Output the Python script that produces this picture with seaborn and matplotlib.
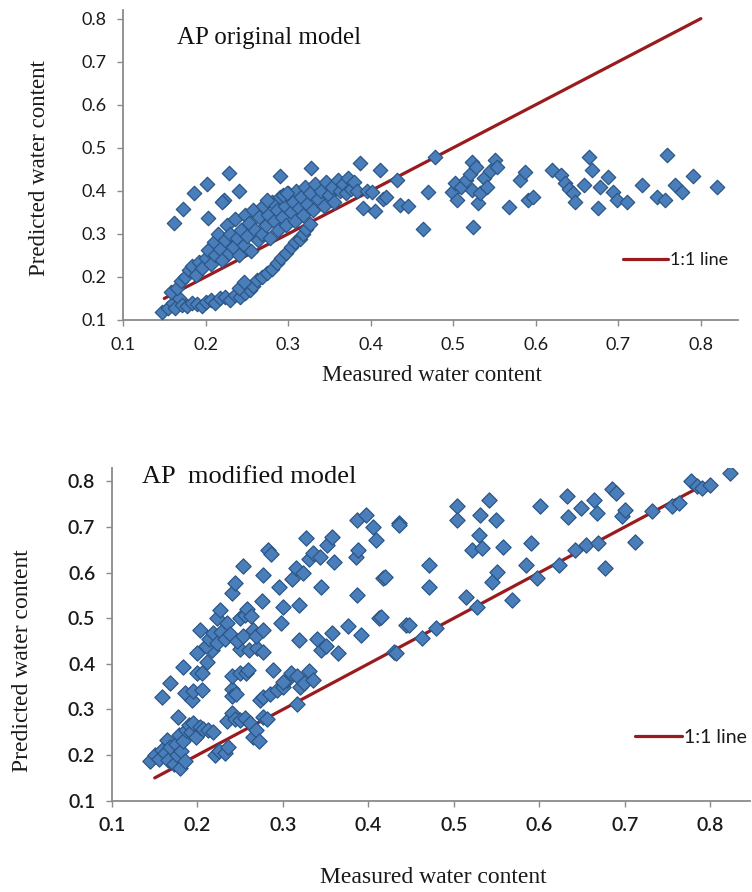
import matplotlib
matplotlib.use("Agg")
import matplotlib.pyplot as plt
import seaborn as sns

# ---- values ----
orig_measured = [
    0.147, 0.155, 0.160, 0.163, 0.168, 0.172, 0.178, 0.183, 0.190, 0.196,
    0.200, 0.206, 0.212, 0.218, 0.224, 0.230, 0.236, 0.242, 0.248, 0.254,
    0.258, 0.262, 0.268, 0.274, 0.280, 0.286, 0.292, 0.298, 0.304, 0.308,
    0.314, 0.318, 0.322, 0.326, 0.240, 0.246,
    0.158, 0.165, 0.170, 0.175, 0.180, 0.183, 0.188, 0.192, 0.196, 0.200,
    0.203, 0.206, 0.210, 0.212, 0.215, 0.218, 0.220, 0.223, 0.226, 0.228,
    0.230, 0.233, 0.236, 0.238, 0.240, 0.243, 0.246, 0.248, 0.250, 0.253,
    0.255, 0.258, 0.260, 0.263, 0.265, 0.268, 0.270, 0.273, 0.276, 0.278,
    0.280, 0.283, 0.286, 0.288, 0.290, 0.293, 0.296, 0.298, 0.300, 0.303,
    0.306, 0.308, 0.310, 0.313, 0.316, 0.318, 0.320, 0.323, 0.326, 0.330,
    0.333, 0.336, 0.340, 0.343, 0.346, 0.350, 0.353, 0.356, 0.360, 0.363,
    0.366, 0.370, 0.373, 0.376, 0.380, 0.383,
    0.162, 0.173, 0.186, 0.202, 0.229, 0.222, 0.240, 0.203, 0.220, 0.290,
    0.328, 0.294, 0.275, 0.299,
    0.387, 0.391, 0.395, 0.402, 0.405, 0.411, 0.415, 0.418, 0.432, 0.436,
    0.445, 0.464, 0.470, 0.478, 0.499, 0.502, 0.505, 0.510, 0.515, 0.520,
    0.523, 0.523, 0.524, 0.528, 0.530, 0.533, 0.537, 0.541, 0.545, 0.551,
    0.553, 0.567, 0.581, 0.587, 0.591, 0.597, 0.620, 0.630, 0.636, 0.640,
    0.645, 0.648, 0.658, 0.664, 0.668, 0.676, 0.678, 0.687, 0.694, 0.699,
    0.711, 0.729, 0.747, 0.757, 0.759, 0.769, 0.777, 0.790, 0.820,
]
orig_predicted = [
    0.118, 0.128, 0.140, 0.127, 0.150, 0.135, 0.132, 0.140, 0.138, 0.132,
    0.142, 0.146, 0.140, 0.150, 0.153, 0.146, 0.158, 0.153, 0.163, 0.170,
    0.180, 0.192, 0.200, 0.210, 0.218, 0.232, 0.245, 0.256, 0.270, 0.280,
    0.288, 0.300, 0.312, 0.322, 0.175, 0.188,
    0.165, 0.175, 0.190, 0.200, 0.215, 0.225, 0.205, 0.235, 0.220, 0.245,
    0.262, 0.230, 0.280, 0.250, 0.300, 0.265, 0.240, 0.285, 0.320, 0.255,
    0.300, 0.270, 0.335, 0.290, 0.250, 0.310, 0.275, 0.345, 0.295, 0.325,
    0.260, 0.355, 0.310, 0.285, 0.340, 0.300, 0.365, 0.320, 0.345, 0.290,
    0.375, 0.330, 0.355, 0.310, 0.385, 0.340, 0.365, 0.320, 0.395, 0.350,
    0.375, 0.330, 0.400, 0.360, 0.385, 0.345, 0.410, 0.370, 0.395, 0.355,
    0.415, 0.380, 0.400, 0.365, 0.420, 0.390, 0.410, 0.375, 0.425, 0.400,
    0.415, 0.395, 0.430, 0.405, 0.420, 0.400,
    0.325, 0.358, 0.395, 0.416, 0.441, 0.378, 0.399, 0.336, 0.374, 0.434,
    0.452, 0.390, 0.378, 0.395,
    0.464, 0.360, 0.400, 0.397, 0.354, 0.448, 0.380, 0.386, 0.425, 0.367,
    0.365, 0.311, 0.397, 0.478, 0.397, 0.418, 0.378, 0.410, 0.425, 0.440,
    0.467, 0.402, 0.316, 0.455, 0.371, 0.395, 0.430, 0.409, 0.445, 0.471,
    0.455, 0.362, 0.425, 0.444, 0.378, 0.386, 0.448, 0.436, 0.418, 0.405,
    0.395, 0.374, 0.413, 0.478, 0.448, 0.360, 0.409, 0.432, 0.397, 0.378,
    0.374, 0.413, 0.386, 0.378, 0.483, 0.413, 0.397, 0.434, 0.409,
]

mod_measured = [
    0.144, 0.150, 0.155, 0.158, 0.162, 0.164, 0.166, 0.168, 0.172, 0.175,
    0.176, 0.178, 0.180, 0.181, 0.183, 0.185, 0.187, 0.190, 0.192, 0.195,
    0.198, 0.203, 0.207, 0.212, 0.218, 0.220, 0.225, 0.232, 0.236, 0.234,
    0.240, 0.244, 0.250, 0.256, 0.262, 0.265, 0.269, 0.272, 0.277, 0.281,
    0.158, 0.168, 0.177, 0.183, 0.186, 0.194, 0.195, 0.199, 0.205, 0.205,
    0.211, 0.217, 0.240, 0.240, 0.241, 0.245, 0.250, 0.257, 0.259, 0.250,
    0.260, 0.270, 0.273, 0.277, 0.285, 0.288, 0.293, 0.300, 0.305, 0.310,
    0.316, 0.317, 0.320, 0.325, 0.330, 0.335, 0.300,
    0.199, 0.203, 0.210, 0.214, 0.218, 0.223, 0.223, 0.226, 0.228, 0.232,
    0.235, 0.238, 0.241, 0.244, 0.246, 0.250, 0.253, 0.253, 0.256, 0.258,
    0.263, 0.265, 0.268, 0.275, 0.277, 0.277, 0.277, 0.282, 0.286, 0.296,
    0.298, 0.300, 0.311, 0.315, 0.319, 0.319, 0.323, 0.327, 0.330, 0.335,
    0.340, 0.343, 0.345, 0.345, 0.350, 0.352, 0.358, 0.360, 0.358, 0.364,
    0.376, 0.386, 0.388, 0.387, 0.387, 0.391, 0.397, 0.405, 0.409, 0.413,
    0.417, 0.436,
    0.415, 0.419, 0.430, 0.432, 0.436, 0.444, 0.448, 0.463, 0.471, 0.471,
    0.479, 0.504, 0.504, 0.514, 0.521, 0.527, 0.529, 0.531, 0.533, 0.541,
    0.545, 0.549, 0.551, 0.557, 0.568, 0.584, 0.590, 0.597, 0.601, 0.623,
    0.633, 0.634, 0.642, 0.649, 0.655, 0.664, 0.667, 0.669, 0.677, 0.685,
    0.690, 0.697, 0.700, 0.712, 0.732, 0.755, 0.763, 0.777, 0.785, 0.790,
    0.800, 0.823,
]
mod_predicted = [
    0.186, 0.200, 0.192, 0.212, 0.205, 0.233, 0.190, 0.218, 0.180, 0.225,
    0.200, 0.245, 0.172, 0.210, 0.230, 0.188, 0.255, 0.265, 0.250, 0.270,
    0.240, 0.262, 0.258, 0.255, 0.250, 0.200, 0.208, 0.205, 0.218, 0.275,
    0.292, 0.280, 0.277, 0.282, 0.270, 0.240, 0.255, 0.230, 0.284, 0.280,
    0.328, 0.358, 0.284, 0.393, 0.336, 0.321, 0.340, 0.380, 0.342, 0.380,
    0.405, 0.430, 0.345, 0.330, 0.373, 0.335, 0.380, 0.379, 0.386, 0.432,
    0.430, 0.435, 0.320, 0.328, 0.335, 0.387, 0.343, 0.350, 0.365, 0.380,
    0.373, 0.313, 0.350, 0.357, 0.385, 0.365, 0.360,
    0.424, 0.474, 0.440, 0.455, 0.468, 0.445, 0.500, 0.518, 0.470, 0.455,
    0.490, 0.465, 0.555, 0.577, 0.450, 0.500, 0.614, 0.460, 0.508, 0.520,
    0.505, 0.474, 0.460, 0.537, 0.474, 0.425, 0.595, 0.650, 0.640, 0.569,
    0.489, 0.525, 0.585, 0.610, 0.529, 0.452, 0.600, 0.675, 0.630, 0.643,
    0.455, 0.635, 0.569, 0.430, 0.440, 0.660, 0.678, 0.624, 0.467, 0.423,
    0.482, 0.635, 0.650, 0.716, 0.551, 0.463, 0.727, 0.700, 0.672, 0.500,
    0.588, 0.708,
    0.503, 0.590, 0.427, 0.423, 0.705, 0.485, 0.485, 0.457, 0.617, 0.569,
    0.478, 0.745, 0.716, 0.547, 0.650, 0.525, 0.683, 0.727, 0.655, 0.760,
    0.580, 0.716, 0.602, 0.657, 0.540, 0.617, 0.664, 0.588, 0.745, 0.617,
    0.767, 0.723, 0.650, 0.741, 0.660, 0.760, 0.730, 0.664, 0.610, 0.784,
    0.775, 0.725, 0.737, 0.668, 0.734, 0.745, 0.753, 0.800, 0.790, 0.785,
    0.793, 0.818,
]

line_x = [0.15, 0.80]
line_y = [0.15, 0.80]
tick_values = [0.1, 0.2, 0.3, 0.4, 0.5, 0.6, 0.7, 0.8]
tick_labels = ["0.1", "0.2", "0.3", "0.4", "0.5", "0.6", "0.7", "0.8"]

BLUE = "#4a7ebb"
EDGE = "#2b5686"
RED = "#9a1b1e"
GREY = "#8a8a8a"
SERIF = ["Liberation Serif", "DejaVu Serif"]

sns.set_theme(style="ticks")
plt.rcParams["font.family"] = ["Lato", "DejaVu Sans"]

fig = plt.figure(figsize=(7.52, 8.92), dpi=100)
ax_top = fig.add_axes([123 / 752, 1 - 320 / 892, 615 / 752, 310 / 892])
ax_bot = fig.add_axes([112 / 752, 1 - 800.7 / 892, 638 / 752, 333 / 892])


def panel(ax, measured, predicted, title, cfg):
    sns.lineplot(x=line_x, y=line_y, ax=ax, color=RED, linewidth=2.3,
                 label="1:1 line", zorder=2)
    sns.scatterplot(x=measured, y=predicted, ax=ax, marker="D", s=cfg["s"],
                    color=BLUE, edgecolor=EDGE, linewidth=0.9, zorder=3,
                    legend=False)
    ax.set_xlim(0.1, cfg["xmax"])
    ax.set_ylim(0.1, cfg["ymax"])
    ax.set_xticks(tick_values)
    ax.set_xticklabels(tick_labels)
    ax.set_yticks(tick_values)
    ax.set_yticklabels(tick_labels)
    sns.despine(ax=ax)
    for side in ("left", "bottom"):
        ax.spines[side].set_color(GREY)
        ax.spines[side].set_linewidth(1.3)
    ax.tick_params(direction="out", length=4, width=1, color=GREY,
                   labelsize=cfg["tick"], labelcolor="#1a1a1a", pad=cfg["pad"])
    for lab in ax.get_xticklabels() + ax.get_yticklabels():
        lab.set_fontweight(cfg["weight"])

    ax.set_xlabel("Measured water content", family=SERIF, fontsize=cfg["lab"],
                  color="#1a1a1a", va="center")
    ax.set_ylabel("Predicted water content", family=SERIF, fontsize=cfg["lab"],
                  color="#1a1a1a", va="center")
    ax.xaxis.set_label_coords(*cfg["xlab"])
    ax.yaxis.set_label_coords(*cfg["ylab"])
    ax.text(cfg["title_pos"][0], cfg["title_pos"][1], title, transform=ax.transAxes,
            family=SERIF, fontsize=cfg["title"], va="center", ha="left", color="#111111")

    leg = ax.legend(loc="center left", bbox_to_anchor=cfg["leg"], frameon=False,
                    handlelength=cfg["hl"], handletextpad=0.1, borderpad=0,
                    borderaxespad=0, fontsize=cfg["tick"])
    for t in leg.get_texts():
        t.set_color("#1a1a1a")


panel(ax_top, orig_measured, orig_predicted, "AP original model",
      dict(s=54, xmax=0.845, ymax=0.82, tick=13, weight="normal", lab=16.5,
           pad=8, xlab=(0.502, -0.18), ylab=(-0.135, 0.49), title=18,
           title_pos=(0.088, 0.91), leg=(0.813, 0.194), hl=2.5))
panel(ax_bot, mod_measured, mod_predicted, "AP  modified model",
      dict(s=60, xmax=0.8466, ymax=0.83, tick=14, weight="semibold", lab=17,
           pad=8, xlab=(0.503, -0.23), ylab=(-0.14, 0.42), title=19,
           title_pos=(0.047, 0.972), leg=(0.82, 0.191), hl=2.4))

fig.savefig("out.png", dpi=100, facecolor="white")
